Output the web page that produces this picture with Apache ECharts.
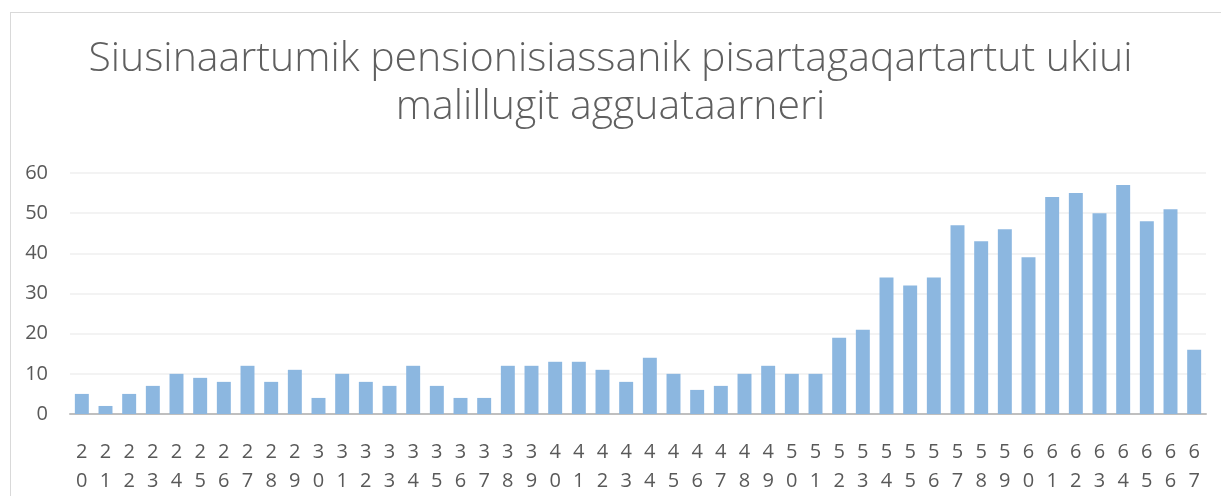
<!DOCTYPE html>
<html>
<head>
<meta charset="utf-8">
<script src="https://cdn.jsdelivr.net/npm/echarts@6/dist/echarts.min.js"></script>
<style>
html,body{margin:0;padding:0;background:#fff;}
#frame{position:absolute;left:10px;top:12px;width:1220px;height:500px;border:1.5px solid #d9d9d9;box-sizing:border-box;}
#c{position:absolute;left:0;top:0;width:1221px;height:496px;}
</style>
</head>
<body>
<div id="frame"></div>
<div id="c"></div>
<script>
const titleText = "Siusinaartumik pensionisiassanik pisartagaqartartut ukiui\nmalillugit agguataarneri";
const categories = ["20","21","22","23","24","25","26","27","28","29","30","31","32","33","34","35","36","37","38","39","40","41","42","43","44","45","46","47","48","49","50","51","52","53","54","55","56","57","58","59","60","61","62","63","64","65","66","67"];
const values = [5,2,5,7,10,9,8,12,8,11,4,10,8,7,12,7,4,4,12,12,13,13,11,8,14,10,6,7,10,12,10,10,19,21,34,32,34,47,43,46,39,54,55,50,57,48,51,16];
const yTicks = {min:0, max:60, interval:10};

const chart = echarts.init(document.getElementById('c'), null, {renderer:'canvas'});
chart.setOption({
  animation:false,
  backgroundColor:'transparent',
  title:{
    text:titleText,
    left:'center',
    top:30,
    textStyle:{fontFamily:'Open Sans', fontWeight:300, fontSize:41, color:'#5f5f5f', lineHeight:48}
  },
  grid:{left:70, right:15, top:173, bottom:82, containLabel:false},
  xAxis:{
    type:'category',
    data:categories,
    axisTick:{show:false},
    axisLine:{show:true, lineStyle:{color:'#bfbfbf', width:2}},
    axisLabel:{
      interval:0,
      margin:24,
      fontFamily:'Open Sans',
      fontSize:20,
      color:'#595959',
      lineHeight:29,
      formatter:function(v){return v.split('').join('\n');}
    }
  },
  yAxis:{
    type:'value',
    min:yTicks.min, max:yTicks.max, interval:yTicks.interval,
    axisLine:{show:false},
    axisTick:{show:false},
    splitLine:{lineStyle:{color:'#efefef', width:1.5}},
    axisLabel:{margin:22, fontFamily:'Open Sans', fontSize:20, color:'#595959'}
  },
  series:[{
    type:'bar',
    data:values,
    barCategoryGap:'41%',
    itemStyle:{color:'#8cb7e0'}
  }]
});
</script>
</body>
</html>
